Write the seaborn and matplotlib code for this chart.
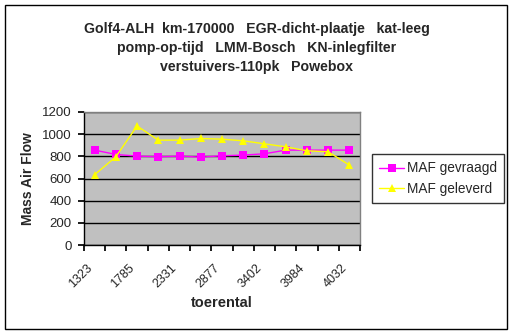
import matplotlib
matplotlib.use("Agg")
import matplotlib.pyplot as plt
import matplotlib.transforms as mtransforms
import seaborn as sns
import pandas as pd
from matplotlib.patches import Rectangle

rpm = ["1323", "1550", "1785", "2060", "2331", "2600", "2877", "3140", "3402", "3690", "3984", "4010", "4032"]
shown_labels = ["1323", "1785", "2331", "2877", "3402", "3984", "4032"]
maf_gevraagd = [856, 817, 802, 796, 802, 793, 805, 811, 823, 856, 856, 856, 856]
maf_geleverd = [634, 796, 1074, 946, 946, 961, 955, 940, 913, 886, 850, 841, 721]

df = pd.DataFrame({
    "idx": list(range(len(rpm))) * 2,
    "rpm": rpm * 2,
    "MAF": maf_gevraagd + maf_geleverd,
    "serie": ["MAF gevraagd"] * len(rpm) + ["MAF geleverd"] * len(rpm),
})

sns.set_theme(style="white")
plt.rcParams['font.family'] = ['Liberation Sans', 'DejaVu Sans']

fig = plt.figure(figsize=(5.13, 3.34), dpi=100)
ax = fig.add_axes([84/513, 1-245/334, 276/513, 133/334])
ax.set_facecolor("#c0c0c0")

sns.lineplot(data=df, x="idx", y="MAF", hue="serie", style="serie",
             palette={"MAF gevraagd": "#ff00ff", "MAF geleverd": "#ffff00"},
             markers={"MAF gevraagd": "s", "MAF geleverd": "^"},
             dashes=False, markersize=5.5, linewidth=1, markeredgewidth=0,
             ax=ax, legend=True)

ax.set_xlim(-0.5, len(rpm) - 0.5)
ax.set_ylim(0, 1200)
ax.set_yticks(range(0, 1201, 200))
ax.yaxis.grid(True, color="black", linewidth=1)
ax.set_axisbelow(True)
ax.set_xticks([i - 0.5 for i in range(len(rpm) + 1)], minor=False)
ax.set_xticklabels([])
ax.set_xticks(list(range(0, len(rpm), 2)), minor=True)
labels = ax.set_xticklabels(shown_labels, minor=True, rotation=45, ha="right", va="top", fontsize=9)
offset = mtransforms.ScaledTranslation(-6/100, 0, fig.dpi_scale_trans)
for lab in labels:
    lab.set_transform(lab.get_transform() + offset)
ax.tick_params(axis="x", which="major", length=4, direction="out", color="black", bottom=True)
ax.tick_params(axis="x", which="minor", length=0, pad=12, bottom=True)
ax.tick_params(axis="y", length=4, direction="out", color="black", left=True, labelsize=9.5, pad=5)
for s in ["top", "right"]:
    ax.spines[s].set_color("#808080")
    ax.spines[s].set_linewidth(1)
for s in ["left", "bottom"]:
    ax.spines[s].set_color("black")
    ax.spines[s].set_linewidth(1)

ax.set_xlabel("toerental", fontsize=10.5, fontweight="bold", va="center")
ax.xaxis.set_label_coords(0.5, (245-303)/133)
ax.set_ylabel("Mass Air Flow", fontsize=10, fontweight="bold", va="center")
ax.yaxis.set_label_coords((28-84)/276, 0.5)

fig.suptitle("Golf4-ALH  km-170000   EGR-dicht-plaatje   kat-leeg\n"
             "pomp-op-tijd   LMM-Bosch   KN-inlegfilter\n"
             "verstuivers-110pk   Powebox",
             fontsize=10.2, fontweight="bold", y=1-22/334, va="top", linespacing=1.45)

leg = ax.legend(loc="upper left", bbox_to_anchor=(372/513, 1-154/334), bbox_transform=fig.transFigure,
                frameon=True, fancybox=False, edgecolor="black", fontsize=9.8,
                handlelength=1.8, borderpad=0.55, labelspacing=0.45, handletextpad=0.2,
                borderaxespad=0)
leg.get_frame().set_linewidth(1)

fig.patches.append(Rectangle((5/513, 1-329/334), 502/513, 324/334, transform=fig.transFigure,
                             fill=False, edgecolor="black", linewidth=1))

fig.savefig("out.png", dpi=100)
